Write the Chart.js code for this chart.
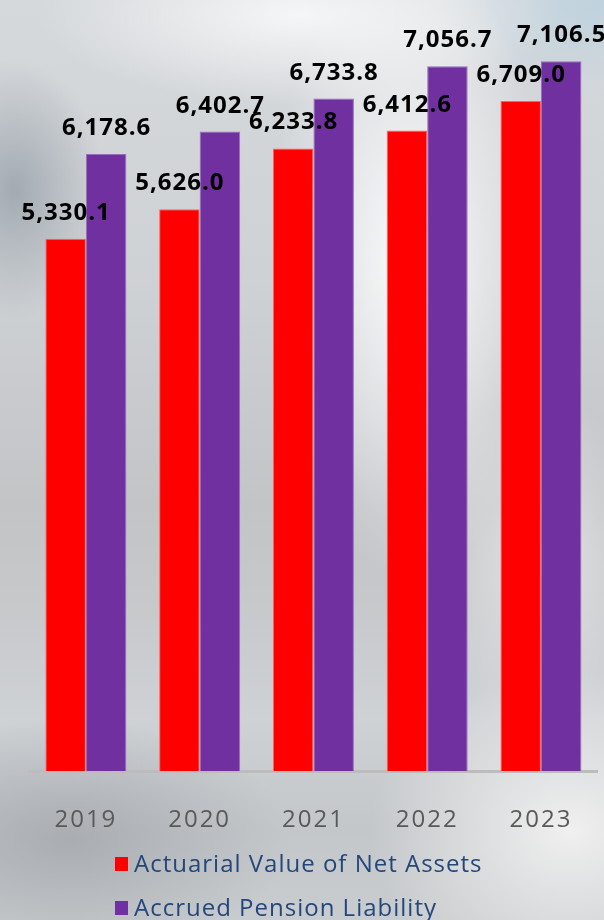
<!DOCTYPE html>
<html>
<head>
<meta charset="utf-8">
<script src="https://cdn.jsdelivr.net/npm/chart.js@4"></script>
<style>
html,body{margin:0;padding:0;}
body{width:604px;height:920px;overflow:hidden;
background:
 radial-gradient(ellipse 90px 130px at 15px 190px, rgba(160,168,176,0.95), rgba(160,168,176,0) 100%),
 radial-gradient(ellipse 140px 320px at 410px 260px, rgba(250,250,250,1), rgba(250,250,250,0) 100%),
 radial-gradient(ellipse 260px 90px at 300px 15px, rgba(245,246,247,1), rgba(245,246,247,0) 100%),
 radial-gradient(ellipse 160px 90px at 595px 5px, rgba(190,210,222,0.95), rgba(190,210,222,0) 100%),
 radial-gradient(ellipse 200px 160px at 570px 830px, rgba(240,240,240,1), rgba(240,240,240,0) 100%),
 radial-gradient(ellipse 220px 120px at 70px 840px, rgba(168,172,177,0.95), rgba(168,172,177,0) 100%),
 radial-gradient(ellipse 110px 170px at 540px 560px, rgba(228,230,232,0.9), rgba(228,230,232,0) 100%),
 linear-gradient(180deg, #d6d9dc 0%, #cfd2d5 30%, #c2c4c6 55%, #c6c8ca 65%, #cfd2d5 78%, #c4c7ca 90%, #c9ccce 100%);
}
#wrap{position:relative;width:604px;height:920px;}
</style>
</head>
<body>
<div id="wrap"><canvas id="c" width="604" height="920"></canvas></div>
<script>
const categories = ["2019", "2020", "2021", "2022", "2023"];
const netAssets = [5330.1, 5626.0, 6233.8, 6412.6, 6709.0];
const pensionLiability = [6178.6, 6402.7, 6733.8, 7056.7, 7106.5];
const seriesNames = ["Actuarial Value of Net Assets", "Accrued Pension Liability"];

const fmt = v => v.toLocaleString('en-US', {minimumFractionDigits:1, maximumFractionDigits:1});

const spacing = {
  id: 'spacing',
  beforeDraw(chart) { chart.ctx.letterSpacing = '2px'; }
};

const valueLabels = {
  id: 'valueLabels',
  afterDatasetsDraw(chart) {
    const ctx = chart.ctx;
    ctx.save();
    ctx.letterSpacing = '1px';
    ctx.font = 'bold 24px "Open Sans"';
    ctx.fillStyle = '#000';
    ctx.textAlign = 'center';
    ctx.textBaseline = 'alphabetic';
    chart.data.datasets.forEach((ds, di) => {
      const meta = chart.getDatasetMeta(di);
      meta.data.forEach((bar, i) => {
        ctx.fillText(fmt(ds.data[i]), bar.x + 0.5, bar.y - 19);
      });
    });
    ctx.restore();
  }
};

const customLegend = {
  id: 'customLegend',
  afterDraw(chart) {
    const ctx = chart.ctx;
    ctx.save();
    ctx.letterSpacing = '1px';
    ctx.font = '24px "Open Sans"';
    ctx.textBaseline = 'middle';
    ctx.textAlign = 'left';
    const ys = [864, 908];
    chart.data.datasets.forEach((ds, i) => {
      const y = ys[i];
      ctx.fillStyle = ds.backgroundColor;
      ctx.fillRect(115, y - 7, 13, 14);
      ctx.fillStyle = '#24477b';
      ctx.fillText(ds.label, 134, y + 1);
    });
    ctx.restore();
  }
};

new Chart(document.getElementById('c'), {
  type: 'bar',
  data: {
    labels: categories,
    datasets: [
      {label: seriesNames[0], data: netAssets, backgroundColor: '#ff0000', borderColor: '#ff6060', borderWidth: {left:1,right:1,top:1,bottom:0}},
      {label: seriesNames[1], data: pensionLiability, backgroundColor: '#7030a0', borderColor: '#9a6cc0', borderWidth: {left:1,right:1,top:1,bottom:0}}
    ]
  },
  options: {
    responsive: false,
    animation: false,
    layout: {padding: {top: 22, left: 29, right: 6, bottom: 50}},
    datasets: {bar: {categoryPercentage: 0.712, barPercentage: 1.0}},
    plugins: {legend: {display: false}, tooltip: {enabled: false}},
    scales: {
      x: {
        grid: {display: false, drawTicks: false},
        border: {display: true, color: '#bcbcbc', width: 3},
        ticks: {color: '#595959', font: {family: '"Open Sans"', size: 24}, padding: 35}
      },
      y: {
        display: false,
        min: 0,
        max: 7500
      }
    }
  },
  plugins: [spacing, valueLabels, customLegend]
});
</script>
</body>
</html>
